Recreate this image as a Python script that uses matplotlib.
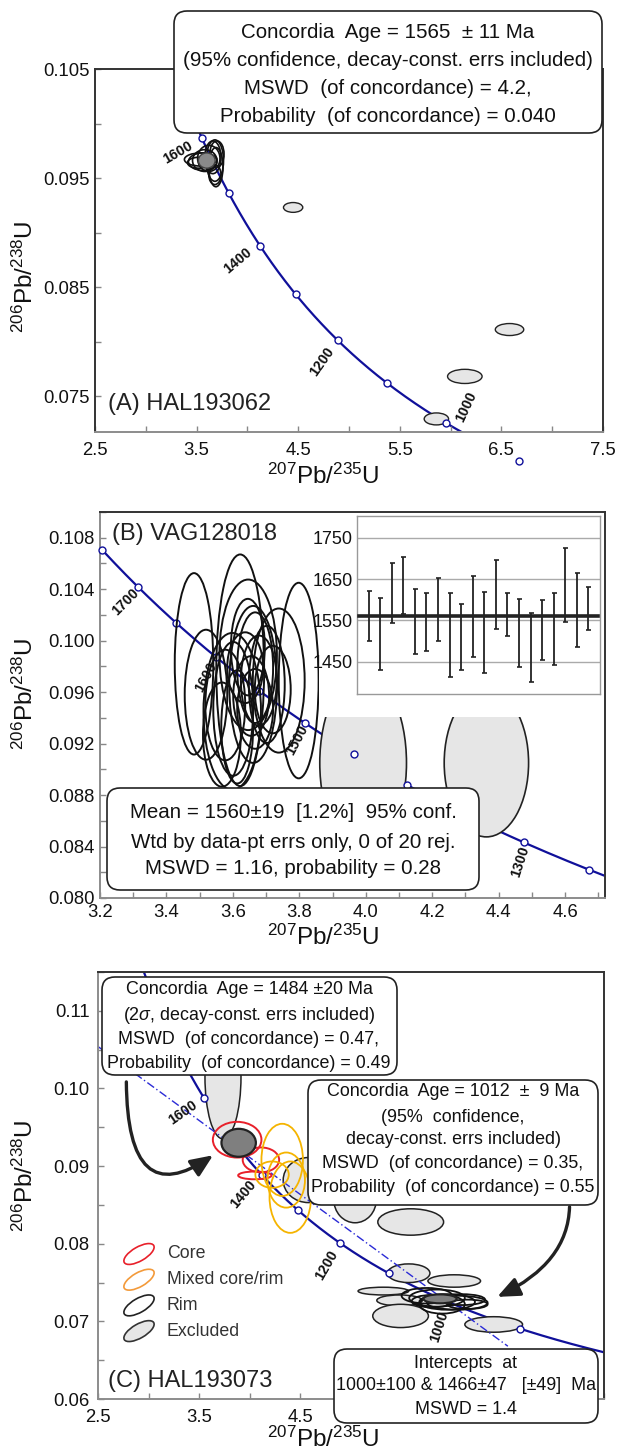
import numpy as np
import matplotlib.pyplot as plt
from matplotlib.patches import Ellipse, FancyBboxPatch, Rectangle, FancyArrowPatch
from matplotlib.ticker import MultipleLocator, FormatStrFormatter

plt.rcParams['font.family'] = ['Liberation Sans', 'DejaVu Sans']
plt.rcParams['mathtext.fontset'] = 'custom'
plt.rcParams['mathtext.rm'] = 'Liberation Sans'
plt.rcParams['mathtext.it'] = 'Liberation Sans:italic'
plt.rcParams['mathtext.bf'] = 'Liberation Sans:bold'

# decay constants (1/Ma), concordia drawn as 238U/206Pb vs 207Pb/206Pb
L238 = 1.55125e-4
L235 = 9.8485e-4
U_RATIO = 137.88

# ---- panel A : HAL193062 ----
a_marker_ages = [900, 1000, 1100, 1200, 1300, 1400, 1500, 1600, 1700]
a_label_ages = [1600, 1400, 1200, 1000]
a_rim_x = [3.54, 3.56, 3.58, 3.62, 3.66, 3.68, 3.69, 3.68, 3.52, 3.70]
a_rim_y = [0.0967, 0.0965, 0.0966, 0.0968, 0.0969, 0.0966, 0.0960, 0.0953, 0.0964, 0.0972]
a_rim_w = [0.32, 0.28, 0.24, 0.22, 0.16, 0.17, 0.14, 0.12, 0.22, 0.14]
a_rim_h = [0.0012, 0.0016, 0.0020, 0.0024, 0.0030, 0.0038, 0.0036, 0.0018, 0.0010, 0.0024]
a_exc_x = [4.45, 6.58, 6.14, 5.86]
a_exc_y = [0.0923, 0.0811, 0.0768, 0.0729]
a_exc_w = [0.19, 0.28, 0.34, 0.24]
a_exc_h = [0.0009, 0.0011, 0.0013, 0.0011]
a_conc = (3.60, 0.0966, 0.165, 0.0014)

# ---- panel B : VAG128018 ----
b_marker_ages = [1250, 1300, 1400, 1450, 1500, 1550, 1600, 1650, 1700, 1750]
b_label_ages = [1700, 1600, 1500, 1300]
b_rim_x = [3.483, 3.622, 3.798, 3.519, 3.646, 3.661, 3.598, 3.738, 3.637, 3.655,
           3.577, 3.667, 3.613, 3.601, 3.678, 3.667, 3.720, 3.567, 3.645, 3.702]
b_rim_y = [0.0982, 0.0977, 0.0969, 0.0958, 0.0989, 0.0966, 0.0945, 0.0969, 0.0979, 0.0957,
           0.0950, 0.0979, 0.0933, 0.0947, 0.0969, 0.0947, 0.0962, 0.0927, 0.0995, 0.0966]
b_rim_w = [0.116, 0.144, 0.120, 0.128, 0.173, 0.144, 0.173, 0.156, 0.108, 0.108,
           0.120, 0.108, 0.096, 0.120, 0.108, 0.108, 0.108, 0.114, 0.102, 0.108]
b_rim_h = [0.0141, 0.0180, 0.0152, 0.0101, 0.0117, 0.0122, 0.0122, 0.0112, 0.0055, 0.0062,
           0.0086, 0.0086, 0.0088, 0.0104, 0.0070, 0.0062, 0.0068, 0.0081, 0.0075, 0.0091]
b_exc_x = [3.992, 4.363]
b_exc_y = [0.0905, 0.0905]
b_exc_w = [0.261, 0.254]
b_exc_h = [0.0140, 0.0115]
# weighted mean inset (Ma)
b_wm_low = [1500, 1430, 1543, 1565, 1470, 1476, 1500, 1412, 1430, 1462,
            1423, 1529, 1512, 1438, 1400, 1454, 1442, 1547, 1486, 1528]
b_wm_high = [1621, 1605, 1690, 1704, 1627, 1617, 1652, 1617, 1591, 1657,
             1619, 1696, 1617, 1603, 1569, 1599, 1617, 1726, 1665, 1631]
b_wm_mean = 1560
b_wm_ticks = [1450, 1550, 1650, 1750]

# ---- panel C : HAL193073 ----
c_marker_ages = [900, 1100, 1200, 1300, 1400, 1600, 1700]
c_label_ages = [1600, 1400, 1200, 1000]
c_core_x = [3.875, 4.11, 4.05]
c_core_y = [0.0934, 0.0908, 0.0888]
c_core_w = [0.48, 0.36, 0.33]
c_core_h = [0.0046, 0.0032, 0.0010]
c_mix_x = [4.32, 4.40, 4.22, 4.36]
c_mix_y = [0.0908, 0.0860, 0.0889, 0.0882]
c_mix_w = [0.41, 0.41, 0.33, 0.37]
c_mix_h = [0.0093, 0.0092, 0.0034, 0.0071]
c_rim_x = [5.75, 5.85, 5.95, 6.05, 5.90, 6.10, 5.80, 6.15]
c_rim_y = [0.0733, 0.0730, 0.0725, 0.0724, 0.0722, 0.0728, 0.0726, 0.0722]
c_rim_w = [0.50, 0.55, 0.55, 0.60, 0.45, 0.45, 0.40, 0.40]
c_rim_h = [0.0020, 0.0022, 0.0020, 0.0018, 0.0024, 0.0014, 0.0016, 0.0012]
c_exc_x = [3.735, 4.58, 5.04, 5.59, 5.57, 6.02, 5.32, 5.48, 5.49, 6.41]
c_exc_y = [0.1015, 0.0882, 0.0857, 0.0828, 0.0762, 0.0752, 0.0739, 0.0727, 0.0707, 0.0696]
c_exc_w = [0.356, 0.50, 0.42, 0.65, 0.42, 0.52, 0.50, 0.45, 0.55, 0.57]
c_exc_h = [0.0160, 0.0058, 0.0060, 0.0034, 0.0024, 0.0016, 0.0010, 0.0014, 0.0030, 0.0020]
c_conc_x = [3.89, 5.88]
c_conc_y = [0.0930, 0.0729]
c_conc_w = [0.34, 0.33]
c_conc_h = [0.0036, 0.00116]
c_disc_x = [2.5, 6.55]
c_disc_y = [0.1054, 0.0668]
c_xtick_labels = ['2.5', '3.5', '4.5', '', '', '']  # the rest sit under the intercept box
legend_names = ['Core', 'Mixed core/rim', 'Rim', 'Excluded']

NAVY = '#10109a'


def concordia(t):
    t = np.asarray(t, dtype=float)
    e8 = np.exp(L238 * t) - 1
    e5 = np.exp(L235 * t) - 1
    return 1 / e8, e5 / e8 / U_RATIO


def style_axes(ax, xmaj, xmin, ymaj, ymin, yfmt, xfmt, xpad, ypad, left_col):
    ax.set_xticks(xmaj)
    ax.xaxis.set_minor_locator(MultipleLocator(xmin))
    ax.set_yticks(ymaj)
    ax.yaxis.set_minor_locator(MultipleLocator(ymin))
    ax.yaxis.set_major_formatter(FormatStrFormatter(yfmt))
    ax.xaxis.set_major_formatter(FormatStrFormatter(xfmt))
    ax.tick_params(which='both', direction='in', length=4, width=1, color='#888888',
                   labelsize=13.3, labelcolor='#111111')
    ax.tick_params(axis='x', which='both', pad=xpad)
    ax.tick_params(axis='y', which='both', pad=ypad)
    ax.spines['left'].set_color(left_col)
    ax.spines['bottom'].set_color('#8c8c8c')
    ax.spines['top'].set_color('#333333')
    ax.spines['right'].set_color('#333333')
    for s in ax.spines.values():
        s.set_linewidth(1.4)


def ellipses(ax, xs, ys, ws, hs, fc, ec, lw, z):
    for x, y, w, h in zip(xs, ys, ws, hs):
        ax.add_patch(Ellipse((x, y), w, h, fc=fc, ec=ec, lw=lw, zorder=z))


def draw_concordia(ax, marker_ages, label_ages, offsets, rots):
    tt = np.linspace(600, 2100, 800)
    cx, cy = concordia(tt)
    ax.plot(cx, cy, color=NAVY, lw=1.6, zorder=1)
    mx, my = concordia(marker_ages)
    ax.plot(mx, my, 'o', ms=5, mfc='white', mec=NAVY, mew=1.0, zorder=3.2, clip_on=False)
    lx, ly = concordia(label_ages)
    for x, y, (dx, dy), r, age in zip(lx, ly, offsets, rots, label_ages):
        ax.annotate(str(age), (x, y), xytext=(dx * 0.72, -dy * 0.72), textcoords='offset points',
                    ha='center', va='center', rotation=r, fontsize=10.3, fontweight='bold',
                    color='#111111', zorder=6, annotation_clip=False)


def fig_rect(l, r, t, b):
    return [l / 619, 1 - b / 1451, (r - l) / 619, (b - t) / 1451]


fig = plt.figure(figsize=(6.19, 14.51), dpi=100)

# ---- A ----
ax_a = fig.add_axes(fig_rect(95, 603, 69, 432))
ax_a.set_xlim(2.5, 7.5)
ax_a.set_ylim(0.0717, 0.105)
draw_concordia(ax_a, a_marker_ages, a_label_ages,
               [(-24, 15), (-22, 15), (-16, 21), (20, -16)], [30, 40, 55, 65])
ellipses(ax_a, a_exc_x, a_exc_y, a_exc_w, a_exc_h, '#e6e6e6', '#222222', 1.0, 2)
ellipses(ax_a, a_rim_x, a_rim_y, a_rim_w, a_rim_h, 'none', '#111111', 1.2, 3.5)
ax_a.add_patch(Ellipse(a_conc[:2], a_conc[2], a_conc[3], fc='#8a8a8a', ec='#444444', lw=1, zorder=4))
style_axes(ax_a, np.arange(2.5, 7.6, 1.0), 0.5, [0.075, 0.085, 0.095, 0.105], 0.005,
           '%.3f', '%.1f', 7, 4, '#333333')

# ---- B ----
ax_b = fig.add_axes(fig_rect(100, 605, 512, 898))
ax_b.set_xlim(3.2, 4.72)
ax_b.set_ylim(0.080, 0.110)
draw_concordia(ax_b, b_marker_ages, b_label_ages,
               [(-12, 15), (-10, 20), (-8, 17), (-4, 19)], [45, 62, 62, 72])
ellipses(ax_b, b_exc_x, b_exc_y, b_exc_w, b_exc_h, '#e6e6e6', '#222222', 1.2, 2)
ellipses(ax_b, b_rim_x, b_rim_y, b_rim_w, b_rim_h, 'none', '#111111', 1.4, 3.5)
style_axes(ax_b, np.arange(3.2, 4.61, 0.2), 0.1, np.arange(0.080, 0.1081, 0.004), 0.002,
           '%.3f', '%.1f', 4, 4, '#8c8c8c')

# ---- C ----
ax_c = fig.add_axes(fig_rect(98, 604, 972, 1399))
ax_c.set_xlim(2.5, 7.5)
ax_c.set_ylim(0.06, 0.115)
draw_concordia(ax_c, c_marker_ages, c_label_ages,
               [(-21, 14), (-19, 19), (-13, 22), (-9, 25)], [35, 50, 60, 72])
ellipses(ax_c, c_exc_x, c_exc_y, c_exc_w, c_exc_h, '#e6e6e6', '#222222', 1.1, 2)
ax_c.plot(c_disc_x, c_disc_y, color='#2b2bd6', lw=1.0, dashes=(6, 2, 1, 2), zorder=2.5)
ellipses(ax_c, c_rim_x, c_rim_y, c_rim_w, c_rim_h, 'none', '#111111', 1.3, 3.5)
ellipses(ax_c, c_core_x, c_core_y, c_core_w, c_core_h, 'none', '#e8202a', 1.4, 3.6)
ellipses(ax_c, c_mix_x, c_mix_y, c_mix_w, c_mix_h, 'none', '#f5b400', 1.3, 3.6)
ellipses(ax_c, c_conc_x, c_conc_y, c_conc_w, c_conc_h, '#7f7f7f', '#222222', 1.6, 4)
style_axes(ax_c, np.arange(2.5, 7.6, 1.0), 0.5, np.arange(0.06, 0.111, 0.01), 0.005,
           '%.2f', '%.1f', 7, 6, '#8c8c8c')
ax_c.set_xticklabels(c_xtick_labels)
arrow_kw = dict(arrowstyle='-|>,head_length=0.75,head_width=0.32', mutation_scale=18,
                lw=2.4, color='#222222', zorder=6, clip_on=False)
ax_c.add_patch(FancyArrowPatch((2.78, 0.1012), (3.66, 0.0916),
                               connectionstyle='angle3,angleA=-90,angleB=35', **arrow_kw))
ax_c.add_patch(FancyArrowPatch((7.16, 0.0851), (6.42, 0.0730),
                               connectionstyle='angle3,angleA=90,angleB=25', **arrow_kw))

# ---- overlay in pixel units for boxes, labels and legend ----
ov = fig.add_axes([0, 0, 1, 1], zorder=5)
ov.set_xlim(0, 619)
ov.set_ylim(1451, 0)
ov.axis('off')


def box(x0, y0, x1, y1):
    ov.add_patch(FancyBboxPatch((x0, y0), x1 - x0, y1 - y0,
                                boxstyle='round,pad=0,rounding_size=13',
                                fc='white', ec='#222222', lw=1.2))


def lines(cx, ys, texts, size):
    for y, s in zip(ys, texts):
        ov.text(cx, y, s, ha='center', va='center', fontsize=size, color='#111111')


box(174, 11, 602, 133)
lines(388, [32, 61, 89, 117],
      ['Concordia  Age = 1565  \u00b1 11 Ma',
       '(95% confidence, decay-const. errs included)',
       'MSWD  (of concordance) = 4.2,',
       'Probability  (of concordance) = 0.040'], 14.8)

box(107, 788, 479, 890)
lines(293, [813, 842, 869],
      ['Mean = 1560\u00b119  [1.2%]  95% conf.',
       'Wtd by data-pt errs only, 0 of 20 rej.',
       'MSWD = 1.16, probability = 0.28'], 14.8)

box(102, 977, 397, 1075)
lines(249, [990, 1015, 1040, 1064],
      ['Concordia  Age = 1484 \u00b120 Ma',
       '(2$\\sigma$, decay-const. errs included)',
       'MSWD  (of concordance) = 0.47,',
       'Probability  (of concordance) = 0.49'], 12.9)

box(308, 1080, 598, 1205)
lines(453, [1092, 1117, 1140, 1164, 1188],
      ['Concordia  Age = 1012  \u00b1  9 Ma',
       '(95%  confidence,',
       'decay-const. errs included)',
       'MSWD  (of concordance) = 0.35,',
       'Probability  (of concordance) = 0.55'], 12.9)

box(334, 1349, 598, 1423)
lines(466, [1363, 1386, 1410],
      ['Intercepts  at',
       '1000\u00b1100 & 1466\u00b147   [\u00b149]  Ma',
       'MSWD = 1.4'], 12.9)

# panel names
ov.text(108, 404, '(A) HAL193062', fontsize=17, color='#222222', va='center')
ov.text(112, 534, '(B) VAG128018', fontsize=17, color='#222222', va='center')
ov.text(108, 1381, '(C) HAL193073', fontsize=17, color='#222222', va='center')

# axis titles
xlab = r'$^{207}$Pb/$^{235}$U'
ylab = r'$^{206}$Pb/$^{238}$U'
for y in [476, 937, 1439]:
    ov.text(323, y, xlab, ha='center', va='center', fontsize=17.5, color='#111111')
for y in [277, 694, 1176]:
    ov.text(25, y, ylab, ha='center', va='center', fontsize=17.5, rotation=90, color='#111111')

# legend
leg_fc = ['none', 'none', 'none', '#e6e6e6']
leg_ec = ['#e8202a', '#f39a3a', '#222222', '#333333']
for i, (name, fc, ec) in enumerate(zip(legend_names, leg_fc, leg_ec)):
    yy = 1254 + i * 25.7
    ov.add_patch(Ellipse((139, yy), 34, 14, angle=-30, fc=fc, ec=ec, lw=1.2))
    ov.text(167, yy, name, ha='left', va='center', fontsize=12.8, color='#333333')

# white backdrop for the weighted-mean inset
ov.add_patch(Rectangle((319, 514), 284, 203, fc='white', ec='none'))

# ---- inset: weighted mean ----
ax_i = fig.add_axes(fig_rect(357, 600, 516, 694), zorder=6)
idx = np.arange(1, len(b_wm_low) + 1)
low = np.array(b_wm_low)
high = np.array(b_wm_high)
mid = (low + high) / 2
ax_i.errorbar(idx, mid, yerr=[mid - low, high - mid], fmt='none', ecolor='#222222',
              elinewidth=1.3, capsize=1.8, capthick=1.2, zorder=3)
ax_i.axhline(b_wm_mean, xmin=0.01, xmax=0.99, color='#222222', lw=2.6, zorder=4)
ax_i.set_xlim(0, 21)
ax_i.set_ylim(1372, 1803)
ax_i.set_xticks([])
ax_i.set_yticks(b_wm_ticks)
ax_i.grid(axis='y', color='#aaaaaa', lw=1)
ax_i.tick_params(axis='y', length=0, pad=3, labelsize=13, labelcolor='#111111')
for s in ax_i.spines.values():
    s.set_color('#999999')
    s.set_linewidth(1)

fig.savefig('out.png', dpi=100)
